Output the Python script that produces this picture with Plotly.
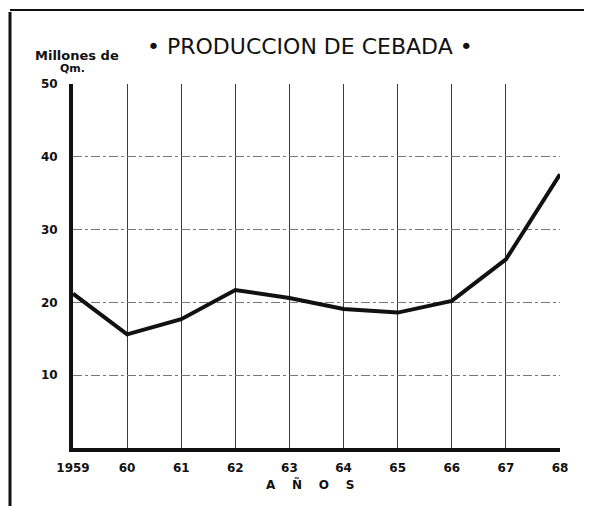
import plotly.graph_objects as go

years = [1959, 1960, 1961, 1962, 1963, 1964, 1965, 1966, 1967, 1968]
year_labels = ["1959", "60", "61", "62", "63", "64", "65", "66", "67", "68"]
produccion = [21.2, 15.6, 17.7, 21.7, 20.6, 19.1, 18.6, 20.2, 25.9, 37.6]
y_ticks = [10, 20, 30, 40, 50]

# page has an 8px body margin; work in figure pixel coordinates
OFF = 8
W, H = 592 - OFF, 506 - OFF
L, R, T, B = 65, 32, 76, 58
pw, ph = W - L - R, H - T - B


def px_x(sx):
    return (sx - OFF - L) / pw


def px_y(sy):
    return (H - B - (sy - OFF)) / ph


fig = go.Figure()
fig.add_trace(go.Scatter(
    x=years, y=produccion, mode="lines",
    line=dict(color="#111111", width=4),
    hoverinfo="skip", showlegend=False, cliponaxis=False,
))

font_main = "DejaVu Sans, Liberation Sans, sans-serif"
NB = "\u00a0"

fig.update_layout(
    width=W, height=H,
    margin=dict(l=L, r=R, t=T, b=B),
    paper_bgcolor="white", plot_bgcolor="white",
    xaxis=dict(
        range=[1959, 1968], tickvals=years, ticktext=year_labels,
        showgrid=True, gridcolor="#3a3a3a", gridwidth=1,
        showline=True, linecolor="#111111", linewidth=4,
        ticks="", ticklabelstandoff=6, zeroline=False,
        tickfont=dict(family=font_main, size=12, color="#111111", weight="bold"),
    ),
    yaxis=dict(
        range=[0, 50], tickvals=y_ticks,
        showgrid=True, gridcolor="#777777", gridwidth=1, griddash="dashdot",
        showline=True, linecolor="#111111", linewidth=4,
        ticks="", ticklabelstandoff=9, zeroline=False,
        tickfont=dict(family=font_main, size=12, color="#111111", weight="bold"),
    ),
    shapes=[
        dict(type="line", xref="paper", yref="paper",
             x0=px_x(10), x1=px_x(10), y0=px_y(12), y1=px_y(506),
             line=dict(color="#111111", width=3)),
        dict(type="line", xref="paper", yref="paper",
             x0=px_x(10), x1=px_x(592), y0=px_y(10), y1=px_y(10),
             line=dict(color="#111111", width=2)),
    ],
    annotations=[
        dict(text="• PRODUCCION DE CEBADA •", xref="paper", yref="paper",
             x=px_x(310), y=px_y(47), showarrow=False, xanchor="center", yanchor="middle",
             font=dict(family=font_main, size=22, color="#111111")),
        dict(text="Millones de", xref="paper", yref="paper",
             x=px_x(77), y=px_y(55), showarrow=False, xanchor="center", yanchor="middle",
             font=dict(family=font_main, size=13, color="#111111", weight="bold")),
        dict(text="Qm.", xref="paper", yref="paper",
             x=px_x(72), y=px_y(69), showarrow=False, xanchor="center", yanchor="middle",
             font=dict(family=font_main, size=11, color="#111111", weight="bold")),
        dict(text=(NB * 4).join(["A", "Ñ", "O", "S"]), xref="paper", yref="paper",
             x=px_x(310), y=px_y(484), showarrow=False, xanchor="center", yanchor="middle",
             font=dict(family=font_main, size=12, color="#111111", weight="bold")),
    ],
)

fig.write_html("out.html")
